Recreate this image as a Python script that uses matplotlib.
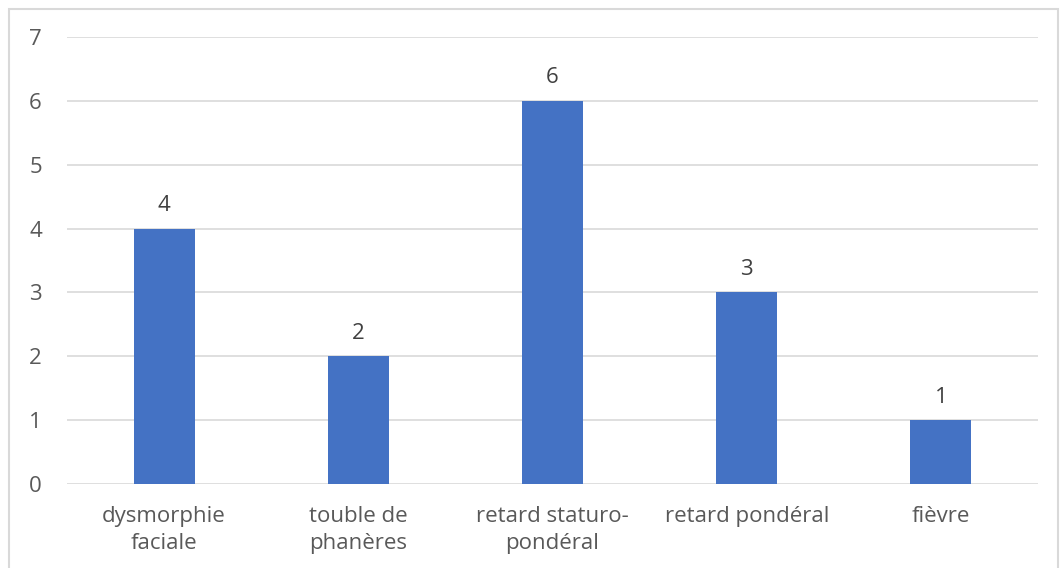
import matplotlib
matplotlib.use("Agg")
import matplotlib.pyplot as plt
from matplotlib.patches import Rectangle

categories = ["dysmorphie\nfaciale", "touble de\nphanères", "retard staturo-\npondéral",
              "retard pondéral", "fièvre"]
values = [4, 2, 6, 3, 1]
yticks = [0, 1, 2, 3, 4, 5, 6, 7]

plt.rcParams["font.family"] = ["Open Sans", "DejaVu Sans"]
text_color = "#595959"
grid_color = "#d9d9d9"
bar_color = "#4472C4"

fig = plt.figure(figsize=(10.62, 5.68), dpi=100)
W, H = 1062, 568

# chart frame
fig.patches.append(Rectangle((9 / W, -0.05), (1058 - 9) / W, 1.05 - 9 / H,
                             transform=fig.transFigure, fill=False,
                             edgecolor="#d9d9d9", linewidth=1.5))

ax = fig.add_axes([67 / W, 84 / H, (1038 - 67) / W, (484 - 37) / H])
x = range(len(categories))
bars = ax.bar(x, values, width=0.315, color=bar_color, zorder=3)
ax.set_xlim(-0.5, len(categories) - 0.5)
ax.set_ylim(0, 7)
ax.set_yticks(yticks)
ax.set_xticks(list(x))
ax.set_xticklabels(categories, fontsize=16, color=text_color, linespacing=1.35)
ax.tick_params(axis="y", labelsize=16, colors=text_color, length=0, pad=18)
ax.tick_params(axis="x", length=0, pad=16)
ax.grid(axis="y", color=grid_color, linewidth=1.2, zorder=0)
for s in ax.spines.values():
    s.set_visible(False)

for b, v in zip(bars, values):
    ax.annotate(str(v), (b.get_x() + b.get_width() / 2, v), xytext=(0, 9),
                textcoords="offset points", ha="center", va="bottom",
                fontsize=16, color="#404040")

fig.savefig("out.png", dpi=100)
